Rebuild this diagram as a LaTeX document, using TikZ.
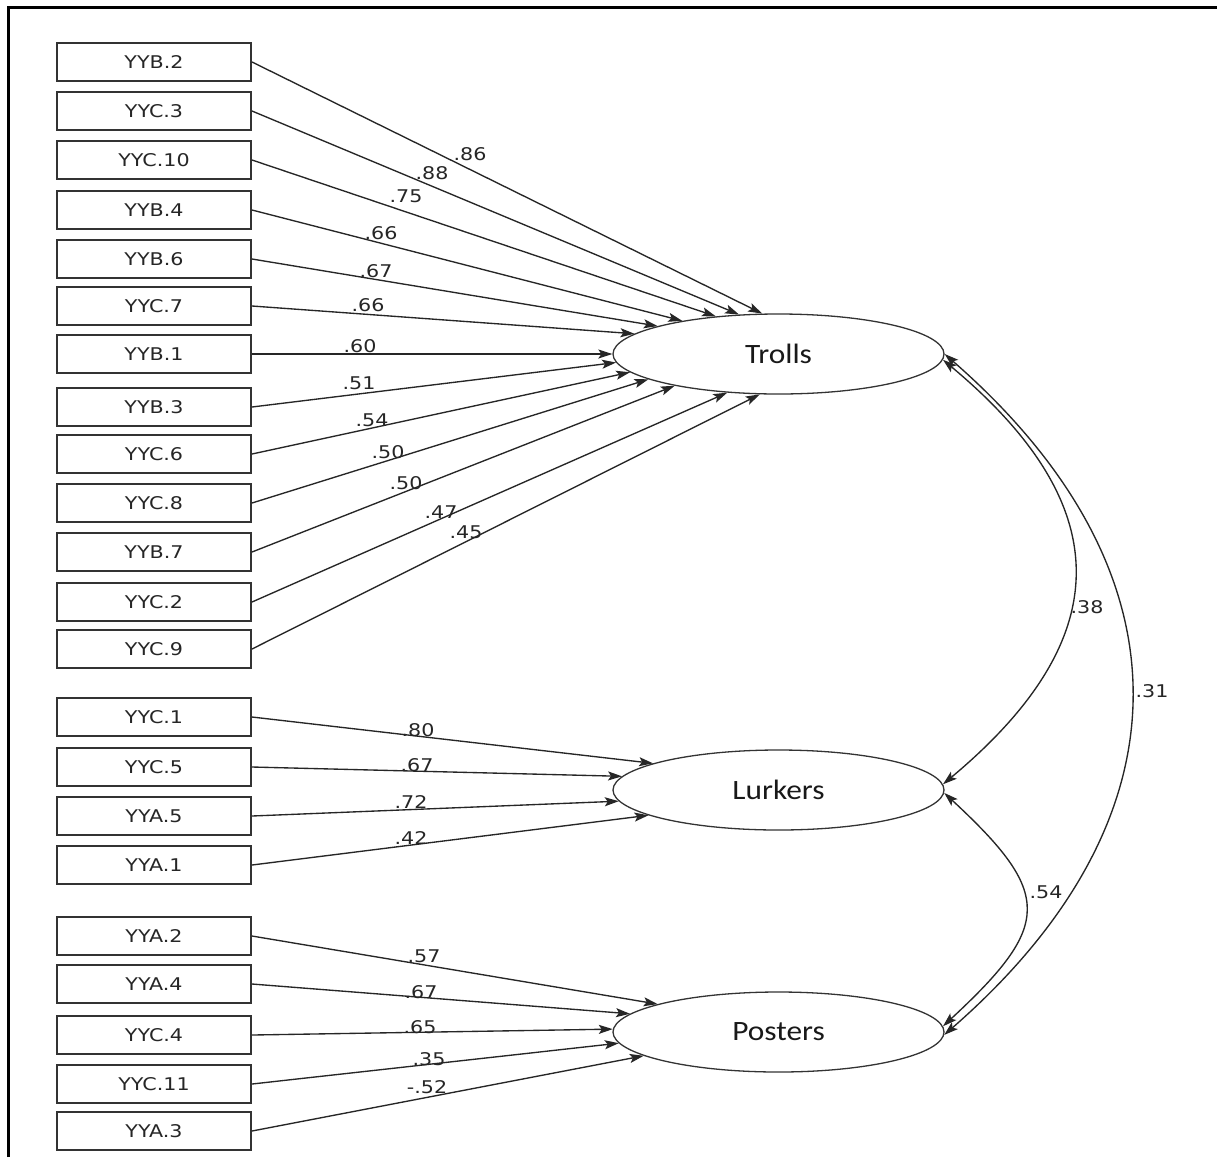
\documentclass[tikz,border=0pt]{standalone}
\usepackage{fontspec}
\newfontfamily\boxfont[FakeStretch=1.18]{DejaVu Sans}
\newfontfamily\latfont[FakeStretch=1.12]{Carlito}
\usetikzlibrary{arrows.meta,shapes.geometric}
\begin{document}
\begin{tikzpicture}[x=1pt,y=-1pt,
  obs/.style={draw=black!80, line width=2pt, minimum width=194pt, minimum height=38pt, inner sep=0pt,
    font=\boxfont\fontsize{17.5}{20}\selectfont, text=black!85},
  lat/.style={ellipse, draw=black!80, line width=1.3pt, minimum width=331pt, minimum height=80pt, inner sep=0pt,
    font=\latfont\fontsize{28}{32}\selectfont, text=black!90},
  lab/.style={inner sep=0pt, font=\boxfont\fontsize{17.5}{20}\selectfont, text=black!85},
  arr/.style={line width=1.35pt, draw=black!85, -{Stealth[length=14pt,width=9pt,inset=3pt]}},
  cov/.style={line width=1.35pt, draw=black!85, {Stealth[length=14pt,width=9pt,inset=3pt]}-{Stealth[length=14pt,width=9pt,inset=3pt]}}
]
\useasboundingbox (0,0) rectangle (1217,1157);
\fill[white] (0,0) rectangle (1217,1157);
% frame
\draw[line width=3pt, black] (8,1157) -- (8,7.5) -- (1217,7.5);

% latent variables
\node[lat] (trolls)  at (778.5,354)  {Trolls};
\node[lat] (lurkers) at (778.5,790)  {Lurkers};
\node[lat] (posters) at (778.5,1032) {Posters};

% observed variables
\node[obs] (yyb2)  at (154,62)   {YYB.2};
\node[obs] (yyc3)  at (154,111)  {YYC.3};
\node[obs] (yyc10) at (154,160)  {YYC.10};
\node[obs] (yyb4)  at (154,210)  {YYB.4};
\node[obs] (yyb6)  at (154,259)  {YYB.6};
\node[obs] (yyc7)  at (154,306)  {YYC.7};
\node[obs] (yyb1)  at (154,354)  {YYB.1};
\node[obs] (yyb3)  at (154,407)  {YYB.3};
\node[obs] (yyc6)  at (154,454)  {YYC.6};
\node[obs] (yyc8)  at (154,503)  {YYC.8};
\node[obs] (yyb7)  at (154,552)  {YYB.7};
\node[obs] (yyc2)  at (154,602)  {YYC.2};
\node[obs] (yyc9)  at (154,649)  {YYC.9};
\node[obs] (yyc1)  at (154,717)  {YYC.1};
\node[obs] (yyc5)  at (154,767)  {YYC.5};
\node[obs] (yya5)  at (154,816)  {YYA.5};
\node[obs] (yya1)  at (154,865)  {YYA.1};
\node[obs] (yya2)  at (154,936)  {YYA.2};
\node[obs] (yya4)  at (154,984)  {YYA.4};
\node[obs] (yyc4)  at (154,1035) {YYC.4};
\node[obs] (yyc11) at (154,1084) {YYC.11};
\node[obs] (yya3)  at (154,1131) {YYA.3};

% loadings on Trolls
\draw[arr] (yyb2.east)  -- (trolls.112.4);
\draw[arr] (yyc3.east)  -- (trolls.135.4);
\draw[arr] (yyc10.east) -- (trolls.149);
\draw[arr] (yyb4.east)  -- (trolls.161.3);
\draw[arr] (yyb6.east)  -- (trolls.167.1);
\draw[arr] (yyc7.east)  -- (trolls.172);
\draw[arr] (yyb1.east)  -- (trolls.180);
\draw[arr] (yyb3.east)  -- (trolls.183.8);
\draw[arr] (yyc6.east)  -- (trolls.187.1);
\draw[arr] (yyc8.east)  -- (trolls.191.2);
\draw[arr] (yyb7.east)  -- (trolls.197.4);
\draw[arr] (yyc2.east)  -- (trolls.217.1);
\draw[arr] (yyc9.east)  -- (trolls.245.7);

% loadings on Lurkers
\draw[arr] (yyc1.east) -- (lurkers.168.7);
\draw[arr] (yyc5.east) -- (lurkers.175.8);
\draw[arr] (yya5.east) -- (lurkers.184.7);
\draw[arr] (yya1.east) -- (lurkers.191.3);

% loadings on Posters
\draw[arr] (yya2.east)  -- (posters.167.3);
\draw[arr] (yya4.east)  -- (posters.173);
\draw[arr] (yyc4.east)  -- (posters.179.5);
\draw[arr] (yyc11.east) -- (posters.184.8);
\draw[arr] (yya3.east)  -- (posters.190.5);

% loading labels
\node[lab] (l1)  at (470,154) {.86};
\node[lab] (l2)  at (432,173) {.88};
\node[lab] (l3)  at (406,196) {.75};
\node[lab] (l4)  at (381,233) {.66};
\node[lab] (l5)  at (376,271) {.67};
\node[lab] (l6)  at (368,305) {.66};
\node[lab] (l7)  at (360,346) {.60};
\node[lab] (l8)  at (359,383) {.51};
\node[lab] (l9)  at (372,420) {.54};
\node[lab] (l10) at (388,452) {.50};
\node[lab] (l11) at (406,483) {.50};
\node[lab] (l12) at (441,512) {.47};
\node[lab] (l13) at (466,532) {.45};
\node[lab] (l14) at (418,730) {.80};
\node[lab] (l15) at (417,765) {.67};
\node[lab] (l16) at (411,802) {.72};
\node[lab] (l17) at (411,838) {.42};
\node[lab] (l18) at (424,956) {.57};
\node[lab] (l19) at (421,992) {.67};
\node[lab] (l20) at (420,1027) {.65};
\node[lab] (l21) at (429,1059) {.35};
\node[lab] (l22) at (427,1087) {-.52};

% covariances
\draw[cov] (trolls.-2) .. controls +(175,146) and +(175,-146) .. (lurkers.2);
\draw[cov] (trolls.0) .. controls +(249,217) and +(249,-217) .. (posters.-1);
\draw[cov] (lurkers.-1) .. controls +(109,101) and +(109,-101) .. (posters.2);
\node[lab] (c1) at (1087,607) {.38};
\node[lab] (c2) at (1152,691) {.31};
\node[lab] (c3) at (1046,892) {.54};
\end{tikzpicture}
\end{document}
